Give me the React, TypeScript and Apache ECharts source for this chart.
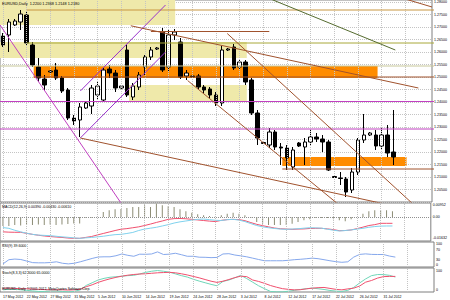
import React, { useEffect, useRef } from "react";
import * as echarts from "echarts";

const dates = [
  "17 May 2012","18 May 2012","20 May 2012","21 May 2012",
  "22 May 2012","23 May 2012","24 May 2012","25 May 2012",
  "27 May 2012","28 May 2012","29 May 2012","30 May 2012",
  "31 May 2012","1 Jun 2012","3 Jun 2012","4 Jun 2012",
  "5 Jun 2012","6 Jun 2012","7 Jun 2012","8 Jun 2012",
  "10 Jun 2012","11 Jun 2012","12 Jun 2012","13 Jun 2012",
  "14 Jun 2012","15 Jun 2012","17 Jun 2012","18 Jun 2012",
  "19 Jun 2012","20 Jun 2012","21 Jun 2012","22 Jun 2012",
  "24 Jun 2012","25 Jun 2012","26 Jun 2012","27 Jun 2012",
  "28 Jun 2012","29 Jun 2012","1 Jul 2012","2 Jul 2012",
  "3 Jul 2012","4 Jul 2012","5 Jul 2012","6 Jul 2012",
  "8 Jul 2012","9 Jul 2012","10 Jul 2012","11 Jul 2012",
  "12 Jul 2012","13 Jul 2012","15 Jul 2012","16 Jul 2012",
  "17 Jul 2012","18 Jul 2012","19 Jul 2012","20 Jul 2012",
  "22 Jul 2012","23 Jul 2012","24 Jul 2012","25 Jul 2012",
  "26 Jul 2012","27 Jul 2012","29 Jul 2012","30 Jul 2012",
  "31 Jul 2012","1 Aug 2012","2 Aug 2012",
];

const open = [
  1.2664,1.2668,1.2708,1.2720,1.2748,1.2628,1.2540,1.2492,1.2520,1.2528,
  1.2496,1.2448,1.2336,1.2328,1.2376,1.2384,1.2428,1.2408,1.2532,1.2516,
  1.2456,1.2608,1.2420,1.2460,1.2540,1.2580,1.2612,1.2680,1.2540,1.2668,
  1.2640,1.2504,1.2504,1.2504,1.2460,1.2452,1.2428,1.2396,1.2608,1.2620,
  1.2540,1.2560,1.2488,1.2356,1.2238,1.2228,1.2280,1.2220,1.2216,1.2140,
  1.2236,1.2220,1.2240,1.2260,1.2252,1.2240,1.2102,1.2096,1.2092,1.2048,
  1.2120,1.2248,1.2268,1.2268,1.2224,1.2268,1.2200,
];
const close = [
  1.2628,1.2720,1.2724,1.2752,1.2636,1.2548,1.2496,1.2468,1.2524,1.2496,
  1.2444,1.2336,1.2324,1.2380,1.2396,1.2456,1.2464,1.2528,1.2516,1.2456,
  1.2464,1.2428,1.2464,1.2508,1.2580,1.2608,1.2616,1.2528,1.2668,1.2680,
  1.2500,1.2516,1.2500,1.2460,1.2448,1.2428,1.2396,1.2608,1.2612,1.2536,
  1.2560,1.2480,1.2356,1.2256,1.2234,1.2280,1.2220,1.2216,1.2176,1.2208,
  1.2224,1.2240,1.2260,1.2252,1.2240,1.2128,1.2098,1.2094,1.2040,1.2120,
  1.2248,1.2268,1.2276,1.2224,1.2268,1.2196,1.2180,
];
const low = [
  1.2620,1.2600,1.2704,1.2688,1.2628,1.2540,1.2480,1.2448,1.2516,1.2488,
  1.2436,1.2328,1.2308,1.2260,1.2372,1.2352,1.2408,1.2400,1.2496,1.2440,
  1.2452,1.2420,1.2408,1.2448,1.2508,1.2568,1.2608,1.2520,1.2520,1.2648,
  1.2492,1.2488,1.2496,1.2452,1.2436,1.2416,1.2384,1.2384,1.2604,1.2528,
  1.2528,1.2468,1.2348,1.2228,1.2232,1.2216,1.2208,1.2148,1.2128,1.2128,
  1.2220,1.2148,1.2228,1.2240,1.2200,1.2124,1.2096,1.2068,1.2020,1.2036,
  1.2108,1.2236,1.2264,1.2208,1.2208,1.2180,1.2148,
];
const high = [
  1.2676,1.2732,1.2732,1.2768,1.2760,1.2640,1.2576,1.2508,1.2532,1.2556,
  1.2504,1.2456,1.2348,1.2396,1.2400,1.2468,1.2480,1.2536,1.2548,1.2528,
  1.2468,1.2628,1.2476,1.2520,1.2588,1.2620,1.2620,1.2696,1.2688,1.2692,
  1.2656,1.2528,1.2508,1.2512,1.2468,1.2460,1.2440,1.2624,1.2616,1.2632,
  1.2568,1.2568,1.2496,1.2368,1.2240,1.2296,1.2288,1.2236,1.2228,1.2220,
  1.2240,1.2256,1.2288,1.2276,1.2268,1.2248,1.2104,1.2120,1.2100,1.2136,
  1.2256,1.2352,1.2280,1.2288,1.2296,1.2308,1.2368,
];

const macdHist = [
  -0.0061,-0.0061,-0.0054,-0.0058,-0.0054,-0.0054,-0.0051,-0.0054,-0.0051,-0.0054,
  -0.0051,-0.0048,-0.0044,-0.0044,-0.0003,-0.0003,0.0003,0.0034,0.0046,0.0052,
  0.0054,0.0061,0.0068,0.0068,0.0080,0.0068,0.0090,0.0080,0.0073,0.0068,
  0.0052,0.0039,0.0029,0.0018,0.0012,0.0007,0.0005,0.0012,0.0022,0.0029,
  0.0022,0.0012,-0.0007,-0.0034,-0.0046,-0.0054,-0.0054,-0.0054,-0.0054,-0.0046,
  -0.0034,-0.0022,-0.0016,-0.0005,-0.0007,-0.0007,-0.0016,-0.0022,-0.0029,-0.0016,
  0.0000,0.0022,0.0039,0.0046,0.0046,0.0046,0.0039,
];
const macdRed = [
  -0.0101,-0.0103,-0.0104,-0.0104,-0.0111,-0.0118,-0.0124,-0.0129,-0.0133,-0.0136,
  -0.0139,-0.0143,-0.0145,-0.0145,-0.0139,-0.0133,-0.0122,-0.0112,-0.0102,-0.0092,
  -0.0083,-0.0079,-0.0073,-0.0067,-0.0058,-0.0048,-0.0037,-0.0027,-0.0016,-0.0011,
  -0.0010,-0.0012,-0.0016,-0.0020,-0.0024,-0.0028,-0.0031,-0.0023,-0.0018,-0.0016,
  -0.0018,-0.0025,-0.0038,-0.0050,-0.0059,-0.0067,-0.0075,-0.0080,-0.0082,-0.0084,
  -0.0082,-0.0081,-0.0078,-0.0077,-0.0077,-0.0081,-0.0086,-0.0093,-0.0092,-0.0088,
  -0.0079,-0.0069,-0.0058,-0.0052,-0.0043,-0.0043,-0.0043,
];
const macdBlue = [
  -0.0072,-0.0077,-0.0090,-0.0101,-0.0110,-0.0118,-0.0123,-0.0125,-0.0127,-0.0131,
  -0.0135,-0.0138,-0.0142,-0.0145,-0.0142,-0.0139,-0.0135,-0.0131,-0.0125,-0.0120,
  -0.0118,-0.0112,-0.0105,-0.0092,-0.0082,-0.0076,-0.0070,-0.0061,-0.0052,-0.0041,
  -0.0033,-0.0027,-0.0021,-0.0016,-0.0014,-0.0018,-0.0022,-0.0024,-0.0018,-0.0016,
  -0.0021,-0.0031,-0.0045,-0.0058,-0.0067,-0.0073,-0.0078,-0.0082,-0.0084,-0.0082,
  -0.0080,-0.0076,-0.0073,-0.0074,-0.0076,-0.0083,-0.0090,-0.0095,-0.0092,-0.0088,
  -0.0082,-0.0077,-0.0070,-0.0065,-0.0062,-0.0061,-0.0061,
];
const rsi = [
  12.5,29.2,31.7,30.0,23.8,17.5,16.7,16.7,17.9,20.8,
  15.0,12.5,15.0,20.8,27.5,34.2,40.0,40.8,40.8,45.0,
  52.1,46.7,42.9,51.3,50.8,52.1,60.4,50.0,51.3,55.0,
  49.2,42.9,42.9,39.2,38.8,37.5,38.3,52.1,53.3,47.9,
  44.6,40.8,35.4,30.0,25.0,25.0,25.0,25.0,26.7,29.2,
  30.8,32.9,35.4,33.3,29.2,25.0,21.3,18.8,20.8,39.6,
  50.4,52.5,50.4,50.0,50.0,43.8,39.6,
];
const stochK = [
  9.1,11.4,11.4,9.1,6.8,4.5,2.3,2.3,4.5,4.5,
  2.3,0.5,2.3,9.1,27.3,38.6,50.0,56.8,61.4,63.6,
  65.9,68.2,69.5,75.0,81.8,86.4,89.5,86.4,82.7,75.5,
  68.2,62.3,53.2,45.5,38.6,31.8,25.9,44.0,50.0,59.1,
  69.5,56.0,40.9,25.9,13.6,2.3,0.5,0.5,3.2,6.8,
  10.5,13.6,16.4,13.6,10.5,6.4,3.6,2.3,6.8,19.1,
  37.7,54.5,68.2,72.7,72.7,69.5,62.3,
];
const stochD = [
  15.9,15.9,15.0,13.6,13.6,12.3,11.4,10.0,9.1,9.1,
  9.1,8.2,9.1,11.4,22.0,30.0,40.0,48.0,55.0,61.0,
  66.0,70.0,73.0,75.0,76.0,78.0,80.0,81.0,82.0,80.0,
  76.0,71.0,65.0,59.0,52.0,45.0,40.0,45.0,52.0,60.0,
  66.0,64.0,50.0,44.0,36.0,27.0,20.0,14.0,11.0,9.0,
  9.5,13.0,16.0,18.0,19.0,15.0,11.0,9.0,13.0,16.0,
  25.0,41.0,48.0,58.0,64.0,65.0,65.0,
];

// drawn objects: [barIndex, price] anchors
const zoneYellowTop = [[-0.5, 1.2812], [29.1, 1.2708]];
const zoneYellowMid = [[-0.5, 1.2640], [41.2, 1.2576]];
const zoneYellowLow = [[21.3, 1.2468], [41.2, 1.2400]];
const zoneOrangeHigh = [[5.2, 1.2544], [63.3, 1.2496]];
const zoneOrangeLow = [[47.2, 1.2180], [68.2, 1.2144]];

const hLineTop = [[4.0, 1.2768], [73, 1.2768]];
const hLineOlive = [[4.0, 1.2636], [73, 1.2636]];
const hLineLight = [[-0.5, 1.2544], [73, 1.2544]];
const hLineBrown = [[5.2, 1.2500], [73, 1.2500]];
const hLineMag1 = [[-0.5, 1.2402], [73, 1.2402]];
const hLineMag2 = [[-0.5, 1.2292], [73, 1.2292]];
const hLineLow = [[47.2, 1.2132], [73, 1.2132]];
const hSegment = [[25, 1.2682], [45, 1.2682]];
const steepMagenta = [[-0.5, 1.2708], [20, 1.1994]];
const channelA = [[13.07, 1.2256], [27.47, 1.2600]];
const channelB = [[13.07, 1.2444], [27.47, 1.2788]];
const trendHigh = [[21.6, 1.2705], [70.2, 1.2456]];
const trendLow = [[13.07, 1.2256], [70.2, 1.1963]];
const trendOlive = [[41.7, 1.2846], [66.3, 1.2608]];
const trendTopRight = [[66.0, 1.2826], [72.5, 1.2780]];
const steepHigh = [[37.9, 1.2674], [70.2, 1.1972]];
const steepLow = [[31.2, 1.2486], [60.1, 1.1924]];

const macdMax = 0.00952;
const macdMin = -0.01632;

const FONT = "Liberation Sans, Arial, sans-serif";
const N = 73;

export default function App() {
  const ref = useRef<HTMLDivElement>(null);
  useEffect(() => {
    document.body.style.margin = "0";
    if (!ref.current) return;
    const chart = echarts.init(ref.current, undefined, { renderer: "svg" });
    const cats = Array.from({ length: N }, (_, i) => (i < dates.length ? dates[i] : "pad" + i));
    const candles = dates.map((_, i) => [open[i], close[i], low[i], high[i]]);
    const vgrid = Array.from({ length: 18 }, (_, k) => ({ xAxis: k * 4 }));
    const gridMark = {
      silent: true,
      symbol: ["none", "none"],
      label: { show: false },
      lineStyle: { color: "#c4c4c4", type: "dotted", width: 1 },
      data: vgrid,
    };
    const ov = (pts: number[][], color: string, width = 1) => ({
      type: "line",
      xAxisIndex: 4,
      yAxisIndex: 0,
      data: pts,
      symbol: "none",
      z: 5,
      silent: true,
      lineStyle: { color, width },
    });
    const zone = (pts: number[][], color: string) => [
      { coord: pts[0], itemStyle: { color } },
      { coord: pts[1] },
    ];
    const catAxis = (gi: number, showLabel: boolean) => ({
      type: "category",
      gridIndex: gi,
      data: cats,
      boundaryGap: true,
      axisLine: { show: false },
      axisTick: { show: false },
      splitLine: { show: false },
      axisLabel: showLabel
        ? {
            show: true,
            interval: 3,
            align: "left",
            fontSize: 3.5,
            fontFamily: FONT,
            color: "#000",
            margin: 2.5,
            formatter: (v: string, i: number) => (i < dates.length ? v : ""),
          }
        : { show: false },
    });
    const gridBox = { show: true, borderColor: "#7f7f7f", borderWidth: 1, backgroundColor: "#fff" };
    const lbl = { fontSize: 3.6, fontFamily: FONT, color: "#000", margin: 2 };
    const last = dates.length - 1;

    chart.setOption({
      animation: false,
      backgroundColor: "#fff",
      grid: [
        { left: -2, right: 16, top: 0, height: 202, ...gridBox },
        { left: -2, right: 16, top: 203, height: 38, ...gridBox },
        { left: -2, right: 16, top: 242, height: 25, ...gridBox },
        { left: -2, right: 16, top: 268, height: 24, ...gridBox },
      ],
      xAxis: [
        catAxis(0, false),
        catAxis(1, false),
        catAxis(2, false),
        catAxis(3, true),
        { type: "value", gridIndex: 0, min: -0.5, max: N - 0.5, show: false },
      ],
      yAxis: [
        {
          type: "value", gridIndex: 0, position: "right", min: 1.2, max: 1.2808, interval: 0.005,
          axisLine: { show: false }, axisTick: { show: false },
          splitLine: { show: true, lineStyle: { color: "#c4c4c4", type: "dotted" } },
          axisLabel: { ...lbl, showMaxLabel: false, showMinLabel: false, formatter: (v: number) => v.toFixed(5) },
        },
        {
          type: "value", gridIndex: 1, position: "right", min: macdMin, max: macdMax,
          axisLine: { show: false }, axisTick: { show: false }, splitLine: { show: false },
          axisLabel: {
            ...lbl,
            customValues: [0.0082, 0, -0.0141],
            formatter: (v: number) => (v === 0 ? "0.00" : v > 0 ? macdMax.toFixed(5) : macdMin.toFixed(5)),
          },
        },
        {
          type: "value", gridIndex: 2, position: "right", min: 0, max: 100,
          axisLine: { show: false }, axisTick: { show: false }, splitLine: { show: false },
          axisLabel: {
            ...lbl,
            customValues: [92, 70, 30, 8],
            formatter: (v: number) => (v > 90 ? "100" : v < 10 ? "0" : String(v)),
          },
        },
        {
          type: "value", gridIndex: 3, position: "right", min: 0, max: 100,
          axisLine: { show: false }, axisTick: { show: false }, splitLine: { show: false },
          axisLabel: {
            ...lbl,
            customValues: [88, 8],
            formatter: (v: number) => (v > 50 ? "100" : "0"),
          },
        },
      ],
      series: [
        {
          type: "line", xAxisIndex: 4, yAxisIndex: 0, data: [], z: 1, silent: true,
          markArea: {
            silent: true,
            data: [
              zone(zoneYellowTop, "#efe9aa"),
              zone(zoneYellowMid, "#efe9aa"),
              zone(zoneYellowLow, "#efe9aa"),
              zone(zoneOrangeHigh, "#ff8c00"),
              zone(zoneOrangeLow, "#ff8c00"),
            ],
          },
        },
        {
          type: "line", xAxisIndex: 0, yAxisIndex: 0, data: [], z: 1, silent: true, markLine: gridMark,
        },
        {
          type: "candlestick", xAxisIndex: 0, yAxisIndex: 0, data: candles, z: 3, barWidth: 4, silent: true,
          itemStyle: { color: "#ffffff", color0: "#000000", borderColor: "#000000", borderColor0: "#000000", borderWidth: 1 },
          markLine: {
            silent: true, symbol: ["none", "none"],
            lineStyle: { opacity: 0 },
            label: {
              show: true, position: "end", distance: 1, fontSize: 3.6, fontFamily: FONT,
              color: "#fff", backgroundColor: "#000", padding: [0.5, 1],
              formatter: () => close[last].toFixed(5),
            },
            data: [{ yAxis: close[last] }],
          },
        },
        ov(hLineTop, "#c89640"),
        ov(hLineOlive, "#a8a838"),
        ov(hLineLight, "#c8c89a"),
        ov(hLineBrown, "#a0522d"),
        ov(hLineMag1, "#c040c0"),
        ov(hLineMag2, "#c040c0"),
        ov(hLineLow, "#a0522d"),
        ov(hSegment, "#a0522d"),
        ov(steepMagenta, "#c040c0"),
        ov(channelA, "#9932cc"),
        ov(channelB, "#9932cc"),
        ov(trendHigh, "#a0522d"),
        ov(trendLow, "#a0522d"),
        ov(trendOlive, "#556b2f"),
        ov(trendTopRight, "#a0522d"),
        ov(steepHigh, "#a0522d"),
        ov(steepLow, "#a0522d"),
        {
          type: "bar", xAxisIndex: 1, yAxisIndex: 1, data: macdHist, barWidth: 1, z: 2, silent: true,
          itemStyle: { color: "#8c8c74" },
          markLine: {
            silent: true, symbol: ["none", "none"], label: { show: false },
            lineStyle: { color: "#c4c4c4", type: "dotted", width: 1 },
            data: [...vgrid, { yAxis: 0, lineStyle: { color: "#909090", type: "dotted" } }],
          },
        },
        { type: "line", xAxisIndex: 1, yAxisIndex: 1, data: macdRed, symbol: "none", z: 3, silent: true, lineStyle: { color: "#f0506e", width: 1 } },
        { type: "line", xAxisIndex: 1, yAxisIndex: 1, data: macdBlue, symbol: "none", z: 3, silent: true, lineStyle: { color: "#7fd2ee", width: 1 } },
        {
          type: "line", xAxisIndex: 2, yAxisIndex: 2, data: rsi, symbol: "none", z: 3, silent: true,
          lineStyle: { color: "#86a8ec", width: 1 }, markLine: gridMark,
        },
        {
          type: "line", xAxisIndex: 3, yAxisIndex: 3, data: stochK, symbol: "none", z: 3, silent: true,
          lineStyle: { color: "#6fd6b8", width: 1 }, markLine: gridMark,
        },
        { type: "line", xAxisIndex: 3, yAxisIndex: 3, data: stochD, symbol: "none", z: 3, silent: true, lineStyle: { color: "#f0506e", width: 1 } },
      ],
      graphic: [
        { type: "text", x: 2, y: 1.5, z: 10, style: { text: "EURUSD,Daily  1.2200 1.2368 1.2148 1.2180", fontSize: 3.8, fontFamily: FONT, fill: "#000" } },
        { type: "text", x: 2, y: 204.5, z: 10, style: { text: "MACD(12,26,9) 0.00390 -0.00430 -0.00610", fontSize: 3.6, fontFamily: FONT, fill: "#000" } },
        { type: "text", x: 2, y: 244, z: 10, style: { text: "RSI(9) 39.6000", fontSize: 3.6, fontFamily: FONT, fill: "#000" } },
        { type: "text", x: 2, y: 271, z: 10, style: { text: "Stoch(8,3,3) 62.3000 65.0000", fontSize: 3.6, fontFamily: FONT, fill: "#000" } },
        { type: "text", x: 2, y: 287.5, z: 10, style: { text: "EURUSD, Daily  ©2001-2012, MetaQuotes Software Corp.", fontSize: 3.4, fontFamily: FONT, fill: "#000" } },
      ],
    });
    return () => chart.dispose();
  }, []);
  return <div ref={ref} style={{ width: 450, height: 300 }} />;
}
